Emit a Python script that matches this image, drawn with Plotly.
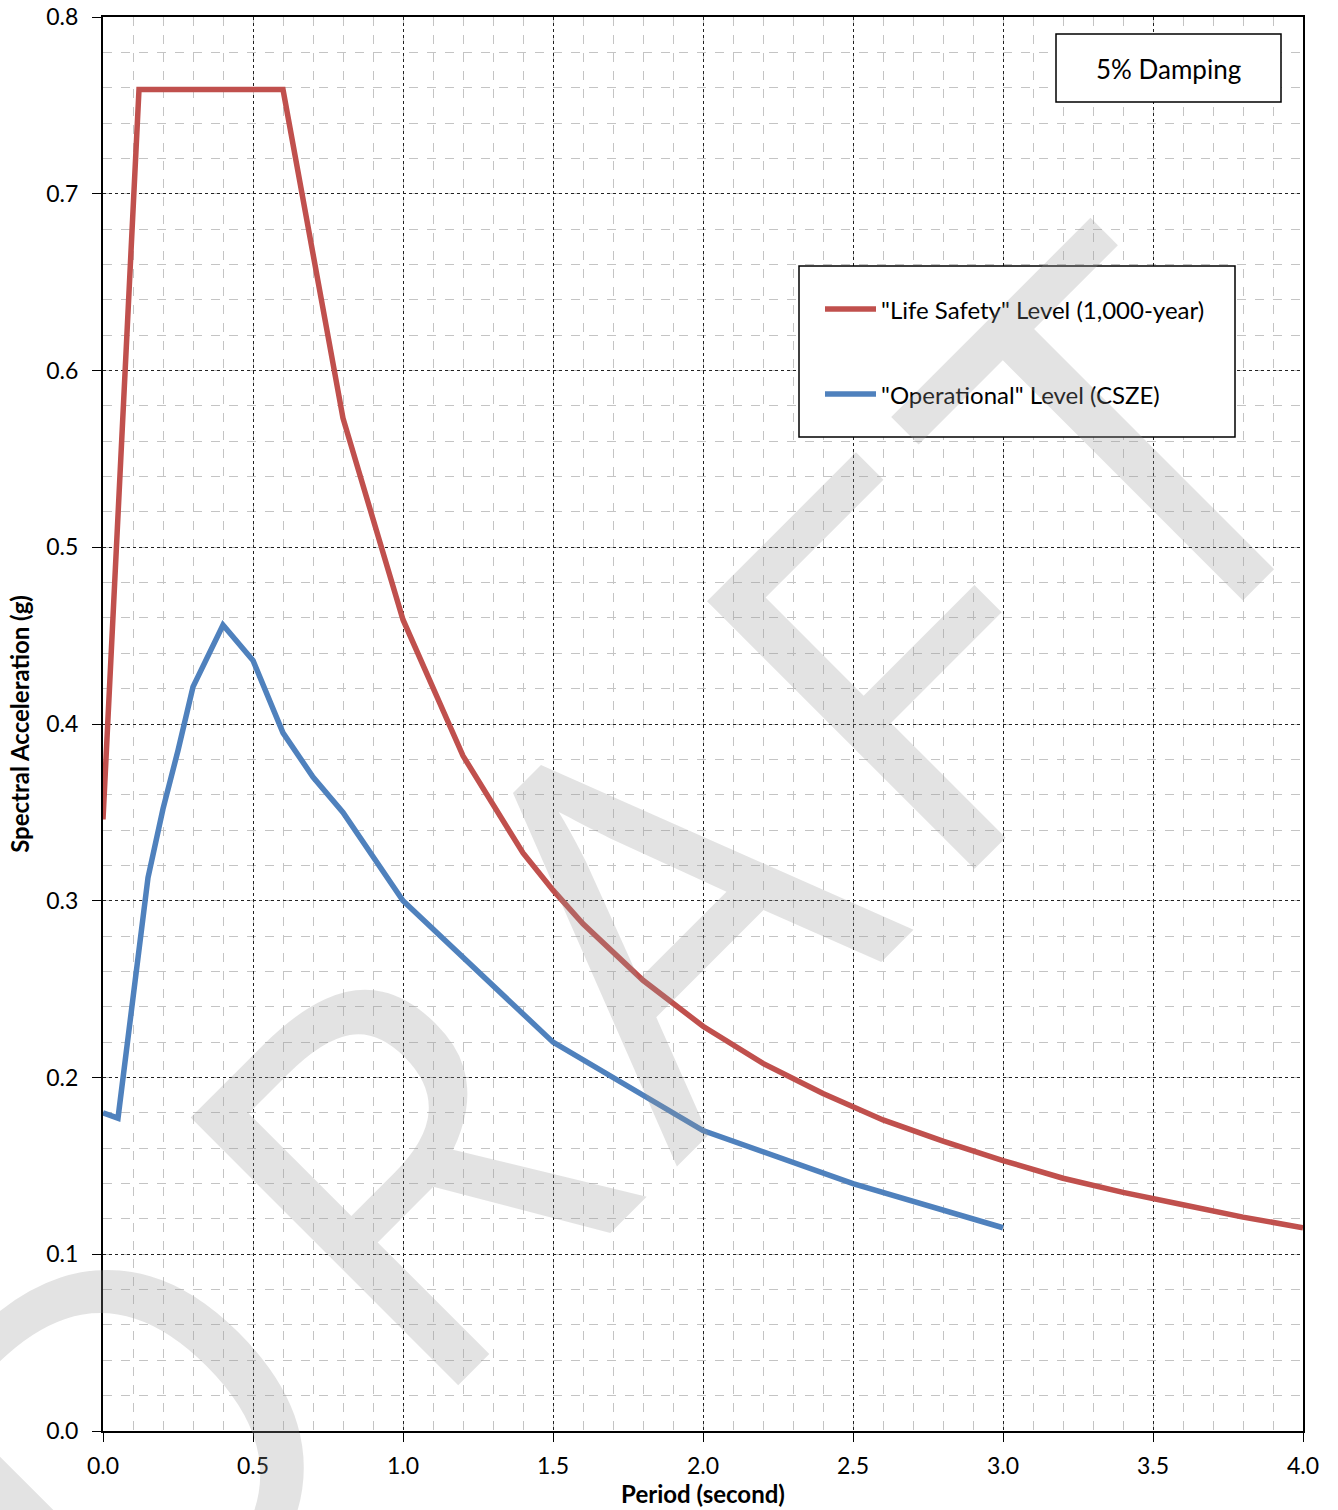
import plotly.graph_objects as go

# Data
life_safety_period = [0, 0.12, 0.6, 0.8, 1.0, 1.2, 1.4, 1.5, 1.6, 1.8, 2.0, 2.2, 2.4, 2.6, 2.8, 3.0, 3.2, 3.4, 3.6, 3.8, 4.0]
life_safety_sa = [0.346, 0.759, 0.759, 0.573, 0.459, 0.382, 0.327, 0.306, 0.287, 0.255, 0.229, 0.208, 0.191, 0.176, 0.164, 0.153, 0.143, 0.135, 0.128, 0.121, 0.115]

operational_period = [0, 0.05, 0.15, 0.2, 0.25, 0.3, 0.4, 0.5, 0.6, 0.7, 0.8, 1.0, 1.5, 2.0, 2.5, 3.0]
operational_sa = [0.180, 0.177, 0.313, 0.352, 0.385, 0.421, 0.456, 0.436, 0.395, 0.370, 0.350, 0.300, 0.220, 0.170, 0.140, 0.115]

series_names = ['"Life Safety" Level (1,000-year)', '"Operational" Level (CSZE)']
series_colors = ["#C0504D", "#4F81BD"]

x_ticks = [0.0, 0.5, 1.0, 1.5, 2.0, 2.5, 3.0, 3.5, 4.0]
y_ticks = [0.0, 0.1, 0.2, 0.3, 0.4, 0.5, 0.6, 0.7, 0.8]

FONT = "Lato"
W, H = 1338, 1510
L, R, T, B = 103, 35, 17, 79
PW, PH = W - L - R, H - T - B


def px_x(p):
    return (p - L) / PW


def px_y(p):
    return (H - B - p) / PH


fig = go.Figure()
fig.add_trace(go.Scatter(x=life_safety_period, y=life_safety_sa, mode="lines",
                         name=series_names[0],
                         line=dict(color=series_colors[0], width=5.5)))
fig.add_trace(go.Scatter(x=operational_period, y=operational_sa, mode="lines",
                         name=series_names[1],
                         line=dict(color=series_colors[1], width=5.5)))

axis_common = dict(
    automargin=False,
    showline=True, linecolor="black", linewidth=2, mirror=True,
    ticks="outside", ticklen=9, tickcolor="black", tickwidth=1,
    showgrid=True, gridcolor="#222222", griddash="dot", gridwidth=1,
    zeroline=False,
    tickfont=dict(family=FONT, size=23, color="black"),
    title_font=dict(family=FONT, size=24, color="black", weight="bold"),
)

fig.update_xaxes(
    range=[0, 4], tickvals=x_ticks, ticktext=[f"{v:.1f}" for v in x_ticks],
    minor=dict(dtick=0.1, showgrid=True, gridcolor="#c4c4c4", griddash="dash", gridwidth=1),
    title_text="<b>Period (second)</b>", title_standoff=2, ticklabelstandoff=4,
    **axis_common,
)
fig.update_yaxes(
    range=[0, 0.8], tickvals=y_ticks, ticktext=[f"{v:.1f}" for v in y_ticks],
    minor=dict(dtick=0.02, showgrid=True, gridcolor="#c4c4c4", griddash="dash", gridwidth=1),
    title_text="<b>Spectral Acceleration (g)</b>", title_standoff=10, ticklabelstandoff=9,
    **axis_common,
)

shapes = []
annotations = []

# "5% Damping" box
shapes.append(dict(type="rect", xref="paper", yref="paper",
                   x0=px_x(1056), x1=px_x(1281), y0=px_y(102), y1=px_y(34),
                   line=dict(color="black", width=1.5), fillcolor="white", layer="above"))
annotations.append(dict(xref="paper", yref="paper", x=px_x(1168), y=px_y(69),
                        text="5% Damping", showarrow=False, xanchor="center", yanchor="middle",
                        font=dict(family=FONT, size=26, color="black")))

# Legend box
shapes.append(dict(type="rect", xref="paper", yref="paper",
                   x0=px_x(799), x1=px_x(1235), y0=px_y(437), y1=px_y(266),
                   line=dict(color="black", width=1.5), fillcolor="white", layer="above"))
for name, color, yy in zip(series_names, series_colors, [309, 394]):
    shapes.append(dict(type="line", xref="paper", yref="paper",
                       x0=px_x(825), x1=px_x(876), y0=px_y(yy), y1=px_y(yy),
                       line=dict(color=color, width=5.5), layer="above"))
    annotations.append(dict(xref="paper", yref="paper", x=px_x(879), y=px_y(yy),
                            text=name, showarrow=False, xanchor="left", yanchor="middle",
                            font=dict(family=FONT, size=24, color="black")))

# DRAFT watermark (semi-transparent, on top)
annotations.append(dict(xref="paper", yref="paper", x=px_x(610), y=px_y(942),
                        text='<span style="letter-spacing:34px">DRAFT</span>',
                        showarrow=False, textangle=-45,
                        xanchor="center", yanchor="middle",
                        font=dict(family="Open Sans", size=530, color="rgba(150,150,150,0.27)")))

fig.update_layout(
    width=W, height=H,
    margin=dict(l=L, r=R, t=T, b=B, autoexpand=False),
    paper_bgcolor="white", plot_bgcolor="white",
    showlegend=False,
    shapes=shapes, annotations=annotations,
    font=dict(family=FONT, color="black"),
)

fig.write_html("out.html", config={"displayModeBar": False},
               post_script="document.body.style.margin='0';document.body.style.padding='0';")
